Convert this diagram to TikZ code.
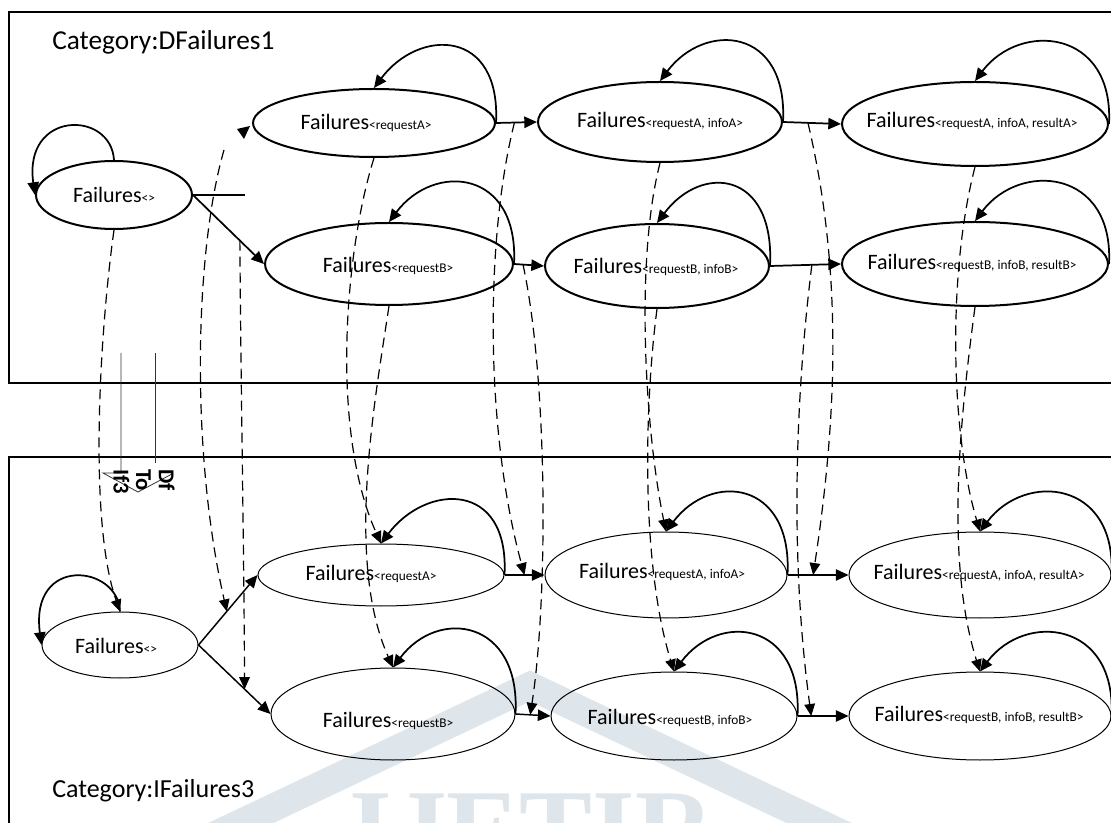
\documentclass[tikz,border=0pt]{standalone}
\usepackage{fontspec}
\setmainfont{Carlito}
\newfontfamily\wmfont{Liberation Serif}
\usetikzlibrary{arrows.meta,shapes.geometric}

\definecolor{wmark}{RGB}{222,229,235}

% state label: large "Failures" followed by a small tuple index
\newcommand{\failtxt}[1]{{\fontsize{16.5pt}{18pt}\selectfont Failures}{\fontsize{10pt}{12pt}\selectfont #1}}

\begin{document}
\begin{tikzpicture}[x=0.75pt,y=-0.75pt,
  topell/.style={ellipse, draw, line width=1.5pt, inner sep=0pt},
  botell/.style={ellipse, draw, line width=0.75pt, inner sep=0pt},
  ellsz/.style 2 args={minimum width=#1*1.5pt, minimum height=#2*1.5pt},
  lbl/.style={inner sep=0pt, anchor=center},
  tip/.style={-{Triangle[length=9.5pt,width=8.5pt]}},
  toparr/.style={tip, line width=1.3pt},
  botarr/.style={tip, line width=1.1pt},
  selfloop/.style={tip, line width=1.3pt},
  mapsto/.style={-{Triangle[length=9pt,width=8pt]}, line width=0.9pt, dash pattern=on 7.5pt off 4.5pt},
  frame/.style={line width=1.3pt},
  blockline/.style={line width=0.6pt, black!80},
]
\useasboundingbox (0,0) rectangle (1111,823);
\clip (0,0) rectangle (1111,823);

% faint publisher mark
\draw[wmark, line width=21pt, line join=miter] (205,840) -- (530,686) -- (855,840);
\node[wmark, font=\wmfont\bfseries\fontsize{82pt}{82pt}\selectfont, anchor=base, inner sep=0pt] (wm) at (532,865) {IJETIR};

% category frames
\draw[frame] (9,12) rectangle (1130,383);
\draw[frame] (9,457) rectangle (1130,845);
\node[anchor=base west, inner sep=0pt, font=\fontsize{20.5pt}{24pt}\selectfont] (catD) at (52,50) {Category:DFailures1};
\node[anchor=base west, inner sep=0pt, font=\fontsize{19.5pt}{23pt}\selectfont] (catI) at (52,797) {Category:IFailures3};

% ---- DFailures1 states ----
\node[topell, ellsz={78}{34}]  (t0)  at (114,195) {};
\node[topell, ellsz={121}{34}] (t1a) at (374,123) {};
\node[topell, ellsz={124}{41}] (t1b) at (389,264) {};
\node[topell, ellsz={122}{40}] (t2a) at (660,122) {};
\node[topell, ellsz={112}{42}] (t2b) at (657,266) {};
\node[topell, ellsz={133}{42}] (t3a) at (975,124) {};
\node[topell, ellsz={133}{42}] (t3b) at (975,264) {};

\node[lbl] (t0l)  at (114,195) {\failtxt{<>}};
\node[lbl] (t1al) at (366,123) {\failtxt{<requestA>}};
\node[lbl] (t1bl) at (388,266) {\failtxt{<requestB>}};
\node[lbl] (t2al) at (660,121) {\failtxt{<requestA, infoA>}};
\node[lbl] (t2bl) at (656,267) {\failtxt{<requestB, infoB>}};
\node[lbl] (t3al) at (972,121) {\failtxt{<requestA, infoA, resultA>}};
\node[lbl] (t3bl) at (972,263) {\failtxt{<requestB, infoB, resultB>}};

% ---- IFailures3 states ----
\node[botell, ellsz={78}{33}]  (b0)  at (120,645) {};
\node[botell, ellsz={123}{31}] (b1a) at (381,575) {};
\node[botell, ellsz={122}{46}] (b1b) at (393,714) {};
\node[botell, ellsz={121}{43}] (b2a) at (666,575) {};
\node[botell, ellsz={123}{44}] (b2b) at (674,716) {};
\node[botell, ellsz={131}{43}] (b3a) at (980,575) {};
\node[botell, ellsz={131}{44}] (b3b) at (980,716) {};

\node[lbl] (b0l)  at (116,646) {\failtxt{<>}};
\node[lbl] (b1al) at (371,574) {\failtxt{<requestA>}};
\node[lbl] (b1bl) at (388,721) {\failtxt{<requestB>}};
\node[lbl] (b2al) at (662,572) {\failtxt{<requestA, infoA>}};
\node[lbl] (b2bl) at (670,718) {\failtxt{<requestB, infoB>}};
\node[lbl] (b3al) at (979,573) {\failtxt{<requestA, infoA, resultA>}};
\node[lbl] (b3bl) at (979,715) {\failtxt{<requestB, infoB, resultB>}};

% ---- transitions, DFailures1 ----
\coordinate (stub) at (245,195);
\draw[line width=1.3pt] (t0.east) -- (stub);
\draw[toparr] (t0.east) -- coordinate[pos=0.66] (m0b) (t1b.west);
\fill (250,126) -- (237,129) -- (244,139) -- cycle;
\draw[toparr] (t1a.east) -- coordinate[pos=0.45] (m1a) (t2a.west);
\draw[toparr] (t2a.east) -- coordinate[pos=0.43] (m2a) (t3a.west);
\draw[toparr] (t1b.east) -- coordinate[pos=0.30] (m1b) (t2b.west);
\draw[toparr] (t2b.east) -- coordinate[pos=0.59] (m2b) (t3b.west);

\draw[selfloop] (t0.north) .. controls +(-3,-50) and +(-12,-85) .. (t0.west);
\foreach \s in {t1a,t1b,t2a,t2b,t3a,t3b}
  \draw[selfloop] (\s.east) .. controls +(5,-95) and +(45,-60) .. (\s.north);

% ---- transitions, IFailures3 ----
\draw[botarr] (b0.east) -- coordinate[pos=0.48] (n0a) (b1a.west);
\draw[botarr] (b0.east) -- coordinate[pos=0.64] (n0b) (b1b.west);
\draw[botarr] (b1a.east) -- coordinate[pos=0.50] (n1a) (b2a.west);
\draw[botarr] (b2a.east) -- coordinate[pos=0.42] (n2a) (b3a.west);
\draw[botarr] (b1b.east) -- coordinate[pos=0.42] (n1b) (b2b.west);
\draw[botarr] (b2b.east) -- coordinate[pos=0.27] (n2b) (b3b.west);

\draw[selfloop] (b0.north) .. controls +(-2,-47) and +(-12,-90) .. (b0.west);
\foreach \s in {b1a,b1b,b2a,b2b,b3a,b3b}
  \draw[selfloop] (\s.east) .. controls +(5,-95) and +(45,-60) .. (\s.north);

% ---- functor DfToIf3: objects and arrows ----
\coordinate (f0a) at (224,150);
\draw[mapsto] (t0.south) .. controls (100,330) and (88,520) .. (b0.north);
\draw[mapsto] (f0a) .. controls (195,250) and (190,450) .. (n0a);
\draw[mapsto] (m0b) .. controls (241,400) and (244,550) .. (n0b);
\draw[mapsto] (t1a.south) .. controls (345,250) and (330,430) .. (b1a.north);
\draw[mapsto] (t1b.south) .. controls (375,400) and (345,560) .. (b1b.north);
\draw[mapsto] (m1a) .. controls (485,240) and (485,430) .. (n1a);
\draw[mapsto] (m1b) .. controls (548,380) and (548,600) .. (n1b);
\draw[mapsto] (t2a.south) .. controls (635,260) and (645,430) .. (b2a.north);
\draw[mapsto] (t2b.south) .. controls (645,400) and (640,560) .. (b2b.north);
\draw[mapsto] (m2a) .. controls (845,280) and (835,430) .. (n2a);
\draw[mapsto] (m2b) .. controls (795,400) and (790,560) .. (n2b);
\draw[mapsto] (t3a.south) .. controls (948,270) and (950,430) .. (b3a.north);
\draw[mapsto] (t3b.south) .. controls (960,420) and (945,560) .. (b3b.north);

% functor block arrow
\draw[blockline] (121,353) -- (121,473) -- (103,473) -- (138,492) -- (172,474);
\draw[blockline] (155,353) -- (155,463);
\node[rotate=-90, align=left, inner sep=0pt, font=\fontsize{17pt}{17pt}\selectfont\bfseries] (fn) at (144,482) {Df\\To\\If3};
\end{tikzpicture}
\end{document}
